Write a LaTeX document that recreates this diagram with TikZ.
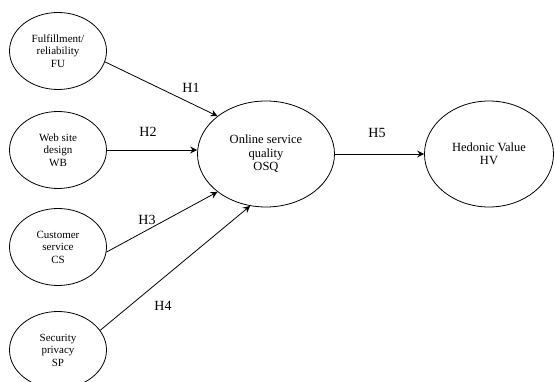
\documentclass[tikz,border=0pt]{standalone}
\usepackage{fontspec}
\setmainfont{Liberation Serif}
\usetikzlibrary{shapes.geometric,arrows.meta}
\begin{document}
\begin{tikzpicture}[x=1pt,y=-1pt,
  var/.style={ellipse,draw,line width=0.8pt,inner sep=0pt,align=center,
    font=\fontsize{11}{12.5}\selectfont},
  small/.style={var,minimum width=97pt,minimum height=77pt},
  big/.style={var,minimum width=137pt,minimum height=106pt,
    font=\fontsize{12.5}{13.5}\selectfont},
  arr/.style={line width=0.8pt,-{Stealth[length=7pt,width=7pt,inset=2.5pt]}},
  hlab/.style={font=\fontsize{14}{15}\selectfont}]
\useasboundingbox (0,0) rectangle (555,382);
\node[small] (fu) at (58,51) {Fulfillment/\\reliability\\FU};
\node[small] (wb) at (58,150) {Web site\\design\\WB};
\node[small] (cs) at (58,247) {Customer\\service\\CS};
\node[small] (sp) at (58,350) {Security\\privacy\\SP};
\node[big] (osq) at (266,154) {Online service\\quality\\OSQ};
\node[big,minimum width=129pt] (hv) at (489,154) {Hedonic Value\\HV};
\draw[arr] (fu.-13) -- (osq.142);
\draw[arr] (wb.east) -- (wb.east -| osq.west);
\draw[arr] (cs.-6) -- (osq.218);
\draw[arr] (sp.25) -- (osq.253);
\draw[arr] (osq.east) -- (hv.west);
\node[hlab] (h1) at (191,88) {H1};
\node[hlab] (h2) at (148,132) {H2};
\node[hlab] (h3) at (147,220) {H3};
\node[hlab] (h4) at (163,306) {H4};
\node[hlab] (h5) at (377,133) {H5};
\end{tikzpicture}
\end{document}
